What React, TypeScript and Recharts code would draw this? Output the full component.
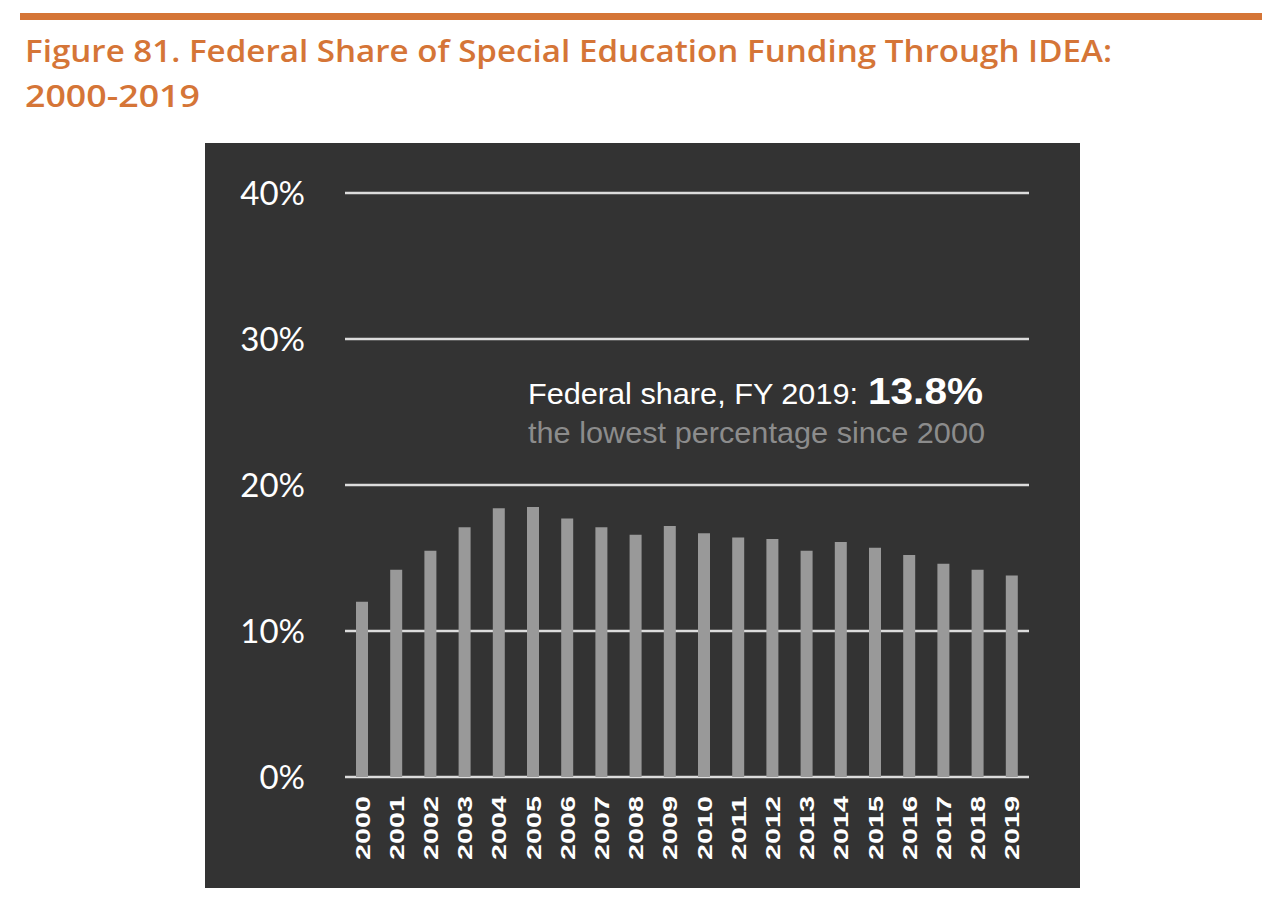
import React from "react";
import { BarChart, Bar, XAxis, YAxis, CartesianGrid } from "recharts";

const years = [
  "2000", "2001", "2002", "2003", "2004", "2005", "2006", "2007", "2008", "2009",
  "2010", "2011", "2012", "2013", "2014", "2015", "2016", "2017", "2018", "2019",
];
const federalShare = [
  12.0, 14.2, 15.5, 17.1, 18.4, 18.5, 17.7, 17.1, 16.6, 17.2,
  16.7, 16.4, 16.3, 15.5, 16.1, 15.7, 15.2, 14.6, 14.2, 13.8,
];
const yTicks = [0, 10, 20, 30, 40];

const ORANGE = "#d57537";
const PANEL = "#333333";

const data = years.map((year, i) => ({ year, share: federalShare[i] }));

function YearTick(props: any) {
  const { x, y, payload } = props;
  return (
    <text
      x={x}
      y={y}
      transform={`rotate(-90, ${x}, ${y})`}
      textAnchor="end"
      dominantBaseline="central"
      fill="#ffffff"
      fontFamily="Liberation Sans, Arial, sans-serif"
      fontWeight={700}
      fontSize={21}
      textLength={64}
      lengthAdjust="spacingAndGlyphs"
    >
      {payload.value}
    </text>
  );
}

export default function App() {
  return (
    <div style={{ position: "absolute", left: 0, top: 0, width: 1280, height: 921, background: "#fff" }}>
      <div style={{ position: "absolute", left: 20, top: 13, width: 1242, height: 7, background: ORANGE }} />
      <svg style={{ position: "absolute", left: 0, top: 0 }} width={1280} height={130}>
        <text
          x={25}
          y={62}
          fill={ORANGE}
          fontFamily="Open Sans, sans-serif"
          fontWeight={600}
          fontSize={30}
          textLength={1087}
          lengthAdjust="spacingAndGlyphs"
        >
          Figure 81. Federal Share of Special Education Funding Through IDEA:
        </text>
        <text
          x={25}
          y={107}
          fill={ORANGE}
          fontFamily="Open Sans, sans-serif"
          fontWeight={600}
          fontSize={30}
          textLength={175}
          lengthAdjust="spacingAndGlyphs"
        >
          2000-2019
        </text>
      </svg>

      <div style={{ position: "absolute", left: 205, top: 143, width: 875, height: 745, background: PANEL }}>
        <BarChart
          width={875}
          height={745}
          data={data}
          margin={{ top: 50, right: 51, bottom: 0, left: 0 }}
        >
          <CartesianGrid horizontal vertical={false} stroke="#dcdcdc" strokeWidth={2.5} />
          <XAxis
            dataKey="year"
            axisLine={false}
            tickLine={false}
            interval={0}
            tickMargin={13}
            tick={<YearTick />}
            height={111}
          />
          <YAxis
            domain={[0, 40]}
            ticks={yTicks}
            axisLine={false}
            tickLine={false}
            width={140}
            tickMargin={34}
            tickFormatter={(v) => `${v}%`}
            tick={{ fill: "#ffffff", fontSize: 33, fontFamily: "Lato, sans-serif" }}
          />
          <Bar dataKey="share" fill="#999999" barSize={12} isAnimationActive={false} />
        </BarChart>
        <svg style={{ position: "absolute", left: 0, top: 0, pointerEvents: "none" }} width={875} height={745}>
          <text
            x={323}
            y={261}
            fill="#ffffff"
            fontSize={30}
            fontFamily="Liberation Sans, Arial, sans-serif"
            textLength={330}
            lengthAdjust="spacingAndGlyphs"
          >
            Federal share, FY 2019:
          </text>
          <text
            x={663}
            y={261}
            fill="#ffffff"
            fontSize={37}
            fontWeight={700}
            fontFamily="Liberation Sans, Arial, sans-serif"
            textLength={115}
            lengthAdjust="spacingAndGlyphs"
          >
            13.8%
          </text>
          <text
            x={323}
            y={300}
            fill="#8c8c8c"
            fontSize={30}
            fontFamily="Liberation Sans, Arial, sans-serif"
            textLength={457}
            lengthAdjust="spacingAndGlyphs"
          >
            the lowest percentage since 2000
          </text>
        </svg>
      </div>
    </div>
  );
}
